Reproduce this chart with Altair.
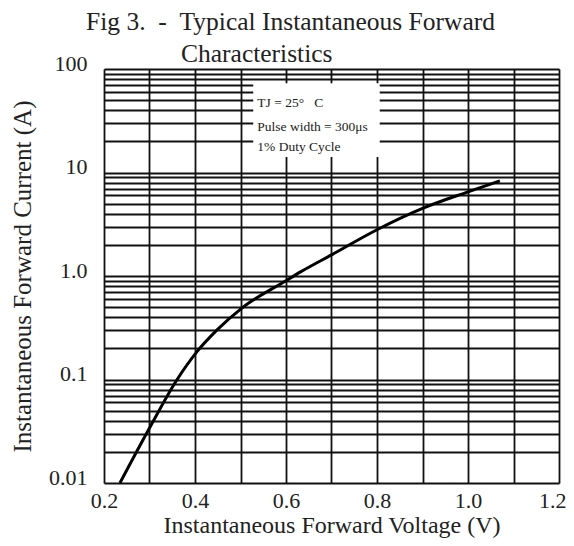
import altair as alt
import pandas as pd

# Curve (V, A)
voltage = [0.235, 0.30, 0.36, 0.404, 0.448, 0.503, 0.60, 0.631, 0.70, 0.80, 0.90, 1.00, 1.07]
current = [0.010, 0.034, 0.099, 0.185, 0.30, 0.49, 0.90, 1.09, 1.60, 2.80, 4.50, 6.50, 8.30]

x_grid = [0.2, 0.3, 0.4, 0.5, 0.6, 0.7, 0.8, 0.9, 1.0, 1.1, 1.2]
y_decades = [0.01, 0.1, 1, 10, 100]
y_labels = ["0.01", "0.1", "1.0", "10", "100"]
y_grid = sorted(set([round(m * d, 6) for d in [0.01, 0.1, 1, 10] for m in range(1, 10)] + [100]))

note_lines = ["TJ = 25°\u00a0\u00a0 C", "Pulse width = 300μs", "1% Duty Cycle"]
note_x = [0.537, 0.537, 0.537]
note_y = [46.9, 27.5, 17.6]
box_x = [0.528, 0.806]
box_y = [14.1, 73.0]

FONT = "Liberation Serif"
INK = "#222222"

curve = pd.DataFrame({"V": voltage, "I": current})
notes = pd.DataFrame({"t": note_lines, "V": note_x, "I": note_y})
box = pd.DataFrame({"V": [box_x[0]], "V2": [box_x[1]], "I": [box_y[0]], "I2": [box_y[1]]})

label_expr = " : ".join(
    [f"datum.value == {v} ? '{l}'" for v, l in zip(y_decades, y_labels)]
) + " : ''"
x_label_expr = "(round(datum.value * 10) % 2 == 0) ? format(datum.value, '.1f') : ''"

xscale = alt.Scale(domain=[0.2, 1.2], nice=False, zero=False)
yscale = alt.Scale(type="log", domain=[0.01, 100], nice=False)

xaxis = alt.Axis(
    values=x_grid, labelExpr=x_label_expr,
    grid=True, gridColor="#111111", gridWidth=1.8, gridOpacity=1,
    ticks=False, domain=False, labelFont=FONT, labelFontSize=22, labelColor=INK,
    labelPadding=7, labelFlush=False, labelOverlap=False,
    labelAlign={"condition": {"test": "datum.value > 1.15", "value": "right"}, "value": "center"},
    labelOffset={"condition": {"test": "datum.value > 1.15", "value": 7}, "value": 0},
    title="Instantaneous Forward Voltage (V)", titleFont=FONT, titleFontSize=24,
    titleFontWeight="normal", titleColor=INK, titlePadding=2,
)
yaxis = alt.Axis(
    values=y_grid, labelExpr=label_expr,
    grid=True, gridColor="#111111", gridWidth=1.8, gridOpacity=1,
    ticks=False, domain=False, labelFont=FONT, labelFontSize=22, labelColor=INK,
    labelPadding=17, labelOffset=-6, labelFlush=False, labelOverlap=False,
    title="Instantaneous Forward Current (A)", titleFont=FONT, titleFontSize=25,
    titleFontWeight="normal", titleColor=INK, titlePadding=13,
)

line = alt.Chart(curve).mark_line(color="#000000", strokeWidth=3, interpolate="monotone").encode(
    x=alt.X("V:Q", scale=xscale, axis=xaxis),
    y=alt.Y("I:Q", scale=yscale, axis=yaxis),
)

rect = alt.Chart(box).mark_rect(color="white", opacity=1).encode(
    x=alt.X("V:Q", scale=xscale), x2="V2:Q",
    y=alt.Y("I:Q", scale=yscale), y2="I2:Q",
)

txt = alt.Chart(notes).mark_text(
    font=FONT, fontSize=13.5, color=INK, align="left", baseline="middle"
).encode(
    x=alt.X("V:Q", scale=xscale), y=alt.Y("I:Q", scale=yscale), text="t:N"
)

title_lines = ["Fig 3.\u00a0\u00a0-\u00a0\u00a0Typical Instantaneous Forward", "Characteristics"]
t1 = alt.Chart(pd.DataFrame({"t": [title_lines[0]]})).mark_text(
    font=FONT, fontSize=25.5, color=INK, align="left", baseline="middle"
).encode(x=alt.value(-18), y=alt.value(-47), text="t:N")
t2 = alt.Chart(pd.DataFrame({"t": [title_lines[1]]})).mark_text(
    font=FONT, fontSize=25.5, color=INK, align="left", baseline="middle"
).encode(x=alt.value(77), y=alt.value(-15), text="t:N")

chart = alt.layer(rect, line, txt, t1, t2).properties(
    width=455, height=414,
    autosize=alt.AutoSizeParams(type="none"),
    padding={"left": 96, "top": 61, "right": 7, "bottom": 55},
).configure_view(stroke="#000000", strokeWidth=2.5).configure(background="white")

chart.save("out.html", embed_options={"renderer": "svg", "actions": False})
